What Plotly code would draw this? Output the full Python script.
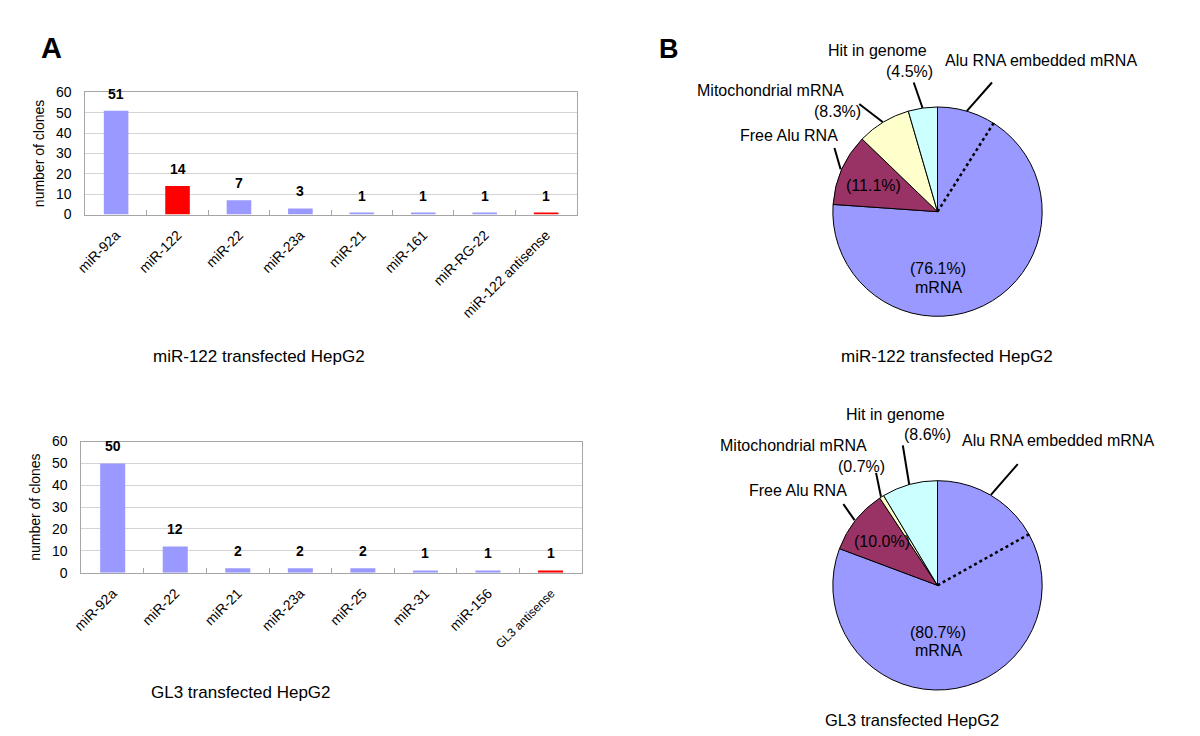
import math
import plotly.graph_objects as go

W, H = 1200, 736
FONT = "Arial, 'Liberation Sans', sans-serif"

# ---------------- data ----------------
mir122_mirnas = ["miR-92a", "miR-122", "miR-22", "miR-23a", "miR-21", "miR-161",
                 "miR-RG-22", "miR-122 antisense"]
mir122_clones = [51, 14, 7, 3, 1, 1, 1, 1]

gl3_mirnas = ["miR-92a", "miR-22", "miR-21", "miR-23a", "miR-25", "miR-31",
              "miR-156", "GL3 antisense"]
gl3_clones = [50, 12, 2, 2, 2, 1, 1, 1]

highlighted = ["miR-122", "miR-122 antisense", "GL3 antisense"]

pie_labels = ["mRNA", "Free Alu RNA", "Mitochondrial mRNA", "Hit in genome"]
mir122_pie = [76.1, 11.1, 8.3, 4.5]
gl3_pie = [80.7, 10.0, 0.7, 8.6]
# share (%) of all clones that are Alu-embedded mRNA (part of the mRNA slice, from 12 o'clock)
alu_embedded = [8.9, 16.8]

# ---------------- style ----------------
BLUE = "#9999FF"
RED = "#FF0000"
PIE_COLORS = ["#9999FF", "#993366", "#FFFFCC", "#CCFFFF"]
GRID = "#d4d4d4"
AXIS = "#a6a6a6"


def px(x):
    return x / W


def py(y):
    return 1 - y / H


fig = go.Figure()

bar_sets = [
    (mir122_mirnas, mir122_clones, "x", "y"),
    (gl3_mirnas, gl3_clones, "x2", "y2"),
]
annotations = []
for cats, vals, xa, ya in bar_sets:
    colors = [RED if c in highlighted else BLUE for c in cats]
    fig.add_trace(go.Bar(x=cats, y=vals, marker=dict(color=colors, line=dict(width=0)),
                         xaxis=xa, yaxis=ya, showlegend=False, hoverinfo="x+y"))
    for c, v in zip(cats, vals):
        annotations.append(dict(x=c, y=v, xref=xa, yref=ya, text="<b>%d</b>" % v,
                                showarrow=False, yanchor="bottom", yshift=7,
                                font=dict(size=14, color="black", family=FONT)))


def bar_axes(xdom, ydom, cats):
    ticktext = [("<span style='font-size:12px'>%s</span>" % c) if c == "GL3 antisense" else c
                for c in cats]
    xa = dict(domain=xdom, type="category", tickangle=-45, tickfont=dict(size=14, color="black"),
              showline=True, linecolor=AXIS, linewidth=1, mirror=True,
              ticks="inside", tickson="boundaries", ticklen=5, tickcolor=AXIS,
              tickvals=cats, ticktext=ticktext, showgrid=False, fixedrange=True,
              ticklabelstandoff=6)
    ya = dict(domain=ydom, range=[0, 60], dtick=10, showgrid=True, gridcolor=GRID, gridwidth=1,
              showline=True, linecolor=AXIS, linewidth=1, mirror=True, ticks="",
              tickfont=dict(size=14, color="black"), zeroline=False,
              title=dict(text="number of clones", font=dict(size=14, color="black"), standoff=8),
              fixedrange=True, ticklabelstandoff=10)
    return xa, ya


xa1, ya1 = bar_axes([px(67), px(563)], [py(203), py(78)], mir122_mirnas)
xa2, ya2 = bar_axes([px(63), px(568)], [py(569), py(435)], gl3_mirnas)
xa1["anchor"] = "y"
ya1["anchor"] = "x"
xa2["anchor"] = "y2"
ya2["anchor"] = "x2"

# ---------------- pies ----------------
R = 107
pie_centers = [(927, 200), (927, 582)]
shapes = []
for vals, (cx, cy), alu in zip([mir122_pie, gl3_pie], pie_centers, alu_embedded):
    fig.add_trace(go.Pie(labels=pie_labels, values=vals, sort=False, direction="clockwise",
                         rotation=0, textinfo="none", showlegend=False,
                         marker=dict(colors=PIE_COLORS, line=dict(color="black", width=1)),
                         domain=dict(x=[px(cx - R), px(cx + R)], y=[py(cy + R), py(cy - R)])))
    th = math.radians(alu / 100 * 360)
    shapes.append(dict(type="line", xref="paper", yref="paper",
                       x0=px(cx), y0=py(cy), x1=px(cx + R * math.sin(th)), y1=py(cy - R * math.cos(th)),
                       line=dict(color="black", width=2.5, dash="dot")))


def edge_point(cx, cy, frac_pct):
    th = math.radians(frac_pct / 100 * 360)
    return cx + R * math.sin(th), cy - R * math.cos(th)


def slice_mid(vals, i):
    return sum(vals[:i]) + vals[i] / 2


def leaders(vals, alu, cx, cy, outer):
    targets = [alu / 2, slice_mid(vals, 1), slice_mid(vals, 2), slice_mid(vals, 3)]
    for t, (ox, oy) in zip(targets, outer):
        ex, ey = edge_point(cx, cy, t)
        shapes.append(dict(type="line", xref="paper", yref="paper", x0=px(ox), y0=py(oy),
                           x1=px(ex), y1=py(ey), line=dict(color="black", width=2)))


leaders(mir122_pie, alu_embedded[0], *pie_centers[0], [(982, 68), (823, 135), (848, 90), (903, 68)])
leaders(gl3_pie, alu_embedded[1], *pie_centers[1], [(1008, 458), (832, 499), (865, 467), (892, 439)])


def txt(x, y, s, size=16, bold=False, xanchor="center"):
    annotations.append(dict(x=px(x), y=py(y), xref="paper", yref="paper",
                            text=("<b>%s</b>" % s) if bold else s, showarrow=False,
                            xanchor=xanchor, yanchor="middle",
                            font=dict(size=size, color="black", family=FONT)))


def pct(v):
    return "(%.1f%%)" % v


# pie 1 labels
txt(866, 35, "Hit in genome")
txt(899, 57, pct(mir122_pie[3]))
txt(1031, 45, "Alu RNA embedded mRNA")
txt(758, 76, "Mitochondrial mRNA")
txt(826, 98, pct(mir122_pie[2]))
txt(777, 122, "Free Alu RNA")
txt(862, 173, pct(mir122_pie[1]))
txt(928, 258, pct(mir122_pie[0]))
txt(928, 278, "mRNA")
txt(937, 348, "miR-122 transfected HepG2", size=17)

# pie 2 labels
txt(885, 407, "Hit in genome")
txt(917, 428, pct(gl3_pie[3]))
txt(1049, 434, "Alu RNA embedded mRNA")
txt(782, 439, "Mitochondrial mRNA")
txt(850, 461, pct(gl3_pie[2]))
txt(786, 485, "Free Alu RNA")
txt(871, 537, pct(gl3_pie[1]))
txt(928, 630, pct(gl3_pie[0]))
txt(928, 649, "mRNA")
txt(901, 720, "GL3 transfected HepG2", size=16.5)

# bar captions and panel letters
txt(242, 348, "miR-122 transfected HepG2", size=17)
txt(224, 692, "GL3 transfected HepG2", size=17)
txt(33, 33, "A", size=29, bold=True)
txt(656, 34, "B", size=27, bold=True)

fig.update_layout(
    width=W, height=H, margin=dict(l=0, r=0, t=0, b=0),
    paper_bgcolor="white", plot_bgcolor="white",
    font=dict(family=FONT, color="black"),
    bargap=0.6,
    xaxis=xa1, yaxis=ya1, xaxis2=xa2, yaxis2=ya2,
    annotations=annotations, shapes=shapes,
)

fig.write_html("out.html")
